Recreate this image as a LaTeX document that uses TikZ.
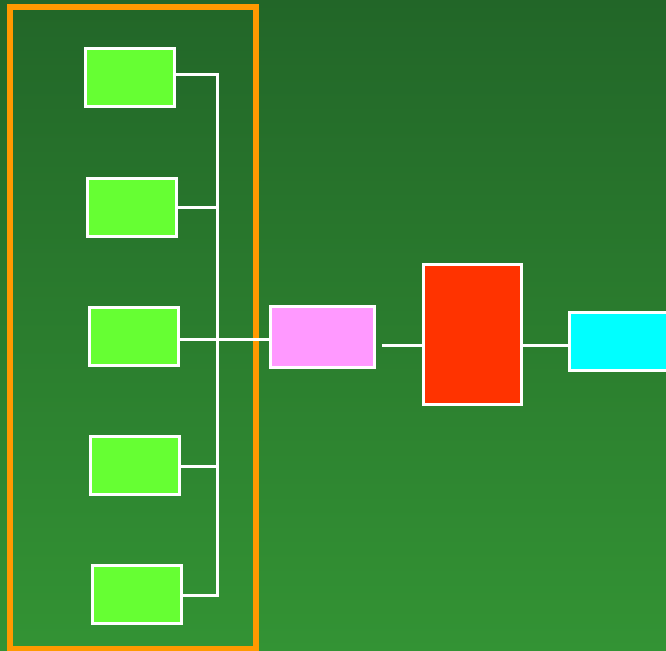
\documentclass[tikz,border=0pt]{standalone}
\usepackage{tikz}
\definecolor{bgtop}{HTML}{226628}
\definecolor{bgbot}{HTML}{339334}
\definecolor{leaf}{HTML}{66FF33}
\definecolor{pinkbox}{HTML}{FF99FF}
\definecolor{redbox}{HTML}{FF3300}
\definecolor{cyanbox}{HTML}{00FFFF}
\definecolor{frame}{HTML}{FF9900}
\tikzset{
  box/.style={draw=white, line width=3pt, inner sep=0pt, outer sep=0pt, anchor=north west},
  leafbox/.style={box, fill=leaf, minimum width=89pt, minimum height=58pt},
  wire/.style={draw=white, line width=3pt}
}
\begin{document}
\begin{tikzpicture}[x=1pt, y=-1pt]
  \useasboundingbox (0,0) rectangle (666,650);
  \clip (0,0) rectangle (666,650);
  % background
  \shade[top color=bgtop, bottom color=bgbot] (0,0) rectangle (666,650);

  % group frame
  \draw[frame, line width=6pt] (10,7) rectangle (256,649);

  % left column of inputs
  \node[leafbox] (b1) at (85.5,48.5) {};
  \node[leafbox] (b2) at (87.5,178.5) {};
  \node[leafbox] (b3) at (89.5,307.5) {};
  \node[leafbox] (b4) at (90.5,436.5) {};
  \node[leafbox] (b5) at (92.5,565.5) {};

  % chain on the right
  \node[box, fill=pinkbox, minimum width=104pt, minimum height=61pt] (p) at (270.5,306.5) {};
  \node[box, fill=redbox, minimum width=98pt, minimum height=140pt] (r) at (423.5,264.5) {};
  \node[box, fill=cyanbox, minimum width=120pt, minimum height=58pt] (c) at (569.5,312.5) {};

  % junction points on the collecting bus
  \coordinate (j1) at (217,75);
  \coordinate (j2) at (217,207);
  \coordinate (j3) at (217,339);
  \coordinate (j4) at (217,466);
  \coordinate (j5) at (217,595);
  \coordinate (pr) at (382,345);
  \coordinate (rc) at (522,345);

  % bus and branches
  \draw[wire] ([yshift=1.5pt]j1) -- ([yshift=-1.5pt]j5);
  \draw[wire] (j1 -| b1.east) -- (j1);
  \draw[wire] (j2 -| b2.east) -- (j2);
  \draw[wire] (j3 -| b3.east) -- (j3 -| p.west);
  \draw[wire] (j4 -| b4.east) -- (j4);
  \draw[wire] (j5 -| b5.east) -- (j5);

  % links along the chain
  \draw[wire] (pr) -- (pr -| r.west);
  \draw[wire] (rc -| r.east) -- (rc -| c.west);
\end{tikzpicture}
\end{document}
